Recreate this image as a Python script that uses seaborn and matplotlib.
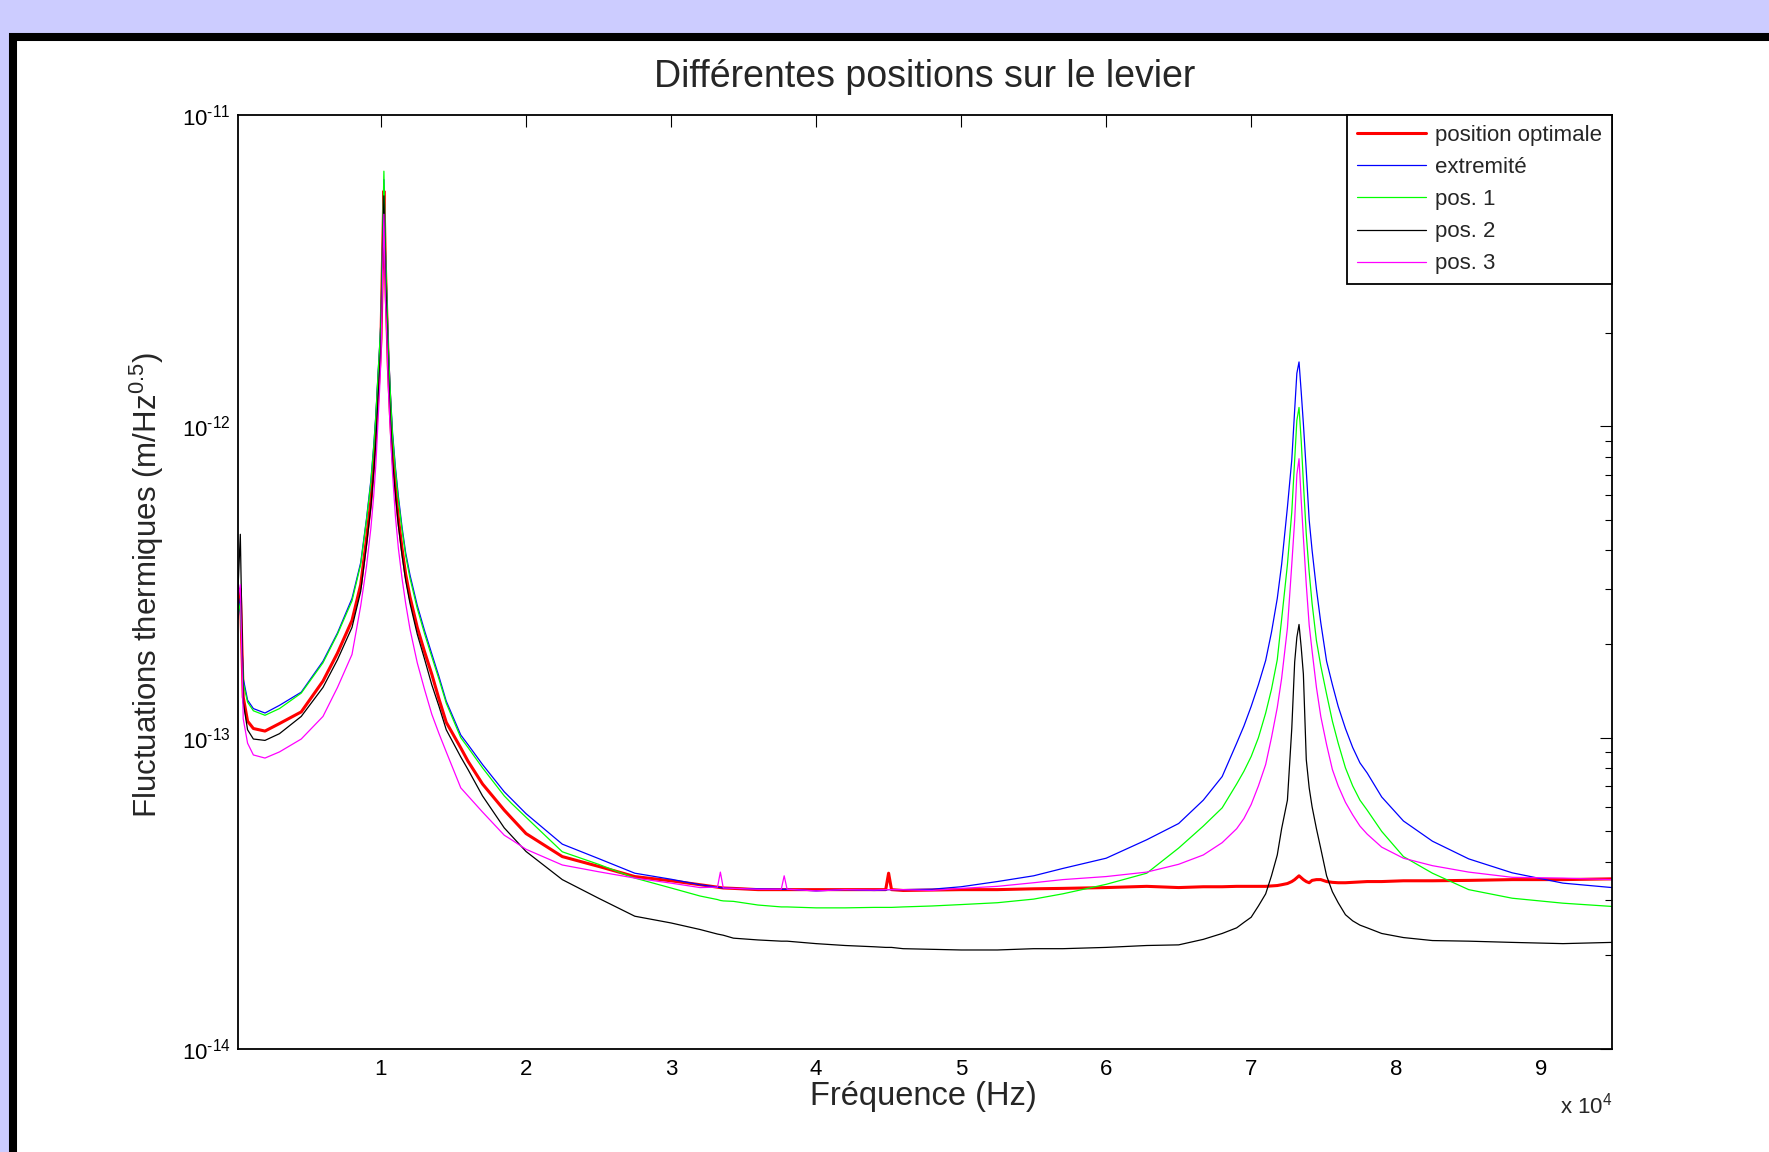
import numpy as np
import pandas as pd
import seaborn as sns
import matplotlib.pyplot as plt
from matplotlib.patches import Rectangle
from matplotlib.ticker import FixedLocator, LogLocator, NullLocator, NullFormatter

sns.set_style("white")
plt.rcParams['font.family'] = ['Liberation Sans', 'DejaVu Sans']
plt.rcParams['mathtext.fontset'] = 'custom'
plt.rcParams['mathtext.rm'] = 'Liberation Sans'
plt.rcParams['mathtext.it'] = 'Liberation Sans:italic'

# Frequency grid (Hz)
freq = [140, 300, 500, 800, 1200, 2000, 3000, 4500, 6000, 7000,
        8000, 8600, 9000, 9300, 9500, 9650, 9800, 9900, 10000, 10100,
        10200, 10300, 10400, 10500, 10650, 10800, 11000, 11200, 11450, 11700,
        12000, 12500, 13000, 13500, 14000, 14500, 15500, 16000, 17000, 18500,
        19000, 20000, 22500, 25000, 27500, 30000, 32000, 33200, 33400, 33600,
        34300, 36000, 37600, 37800, 38000, 40000, 42000, 44000, 44800, 45000,
        45200, 46000, 48000, 50000, 52500, 55000, 57000, 60000, 62800, 65000,
        66700, 68000, 69000, 69500, 70000, 70500, 71000, 71400, 71800, 72100,
        72500, 72800, 73000, 73150, 73300, 73450, 73600, 73800, 74000, 74200,
        74500, 74800, 75200, 75600, 76000, 76500, 77000, 77500, 78000, 79000,
        80500, 82500, 85000, 88000, 91500, 94880]

# Amplitudes, in units of 1e-14 m/Hz^0.5
pos_optimale = [26, 30, 13.5, 11.3, 10.7, 10.5, 11.1, 12.1, 15.2, 18.7,
                23.8, 31, 43.5, 57.5, 75, 95, 129, 155, 191, 335,
                570, 330, 228, 157, 109, 81, 63, 50.5, 40.5, 33.5,
                28.3, 22.6, 18.9, 16.0, 13.3, 11.2, 9.27, 8.4, 7.1, 5.85,
                5.52, 4.92, 4.15, 3.86, 3.58, 3.47, 3.37, 3.31, 3.3, 3.29,
                3.28, 3.25, 3.25, 3.25, 3.25, 3.25, 3.25, 3.25, 3.25, 3.67,
                3.25, 3.23, 3.24, 3.25, 3.25, 3.27, 3.28, 3.3, 3.33, 3.3,
                3.32, 3.32, 3.33, 3.33, 3.33, 3.33, 3.33, 3.34, 3.35, 3.37,
                3.4, 3.45, 3.5, 3.55, 3.6, 3.55, 3.5, 3.45, 3.42, 3.48,
                3.5, 3.5, 3.45, 3.43, 3.42, 3.42, 3.43, 3.44, 3.45, 3.45,
                3.47, 3.47, 3.48, 3.5, 3.5, 3.52]

extremite = [24, 28, 15.5, 13.2, 12.4, 12.0, 12.7, 14.0, 17.6, 21.7,
             28, 36.5, 50.5, 67, 87, 110, 149, 179, 220, 370,
             620, 370, 262, 183, 127, 95, 73.5, 59.5, 47.5, 39.3,
             33.3, 26.6, 22.1, 18.6, 15.7, 13.1, 10.2, 9.5, 8.2, 6.7,
             6.35, 5.7, 4.55, 4.09, 3.67, 3.51, 3.37, 3.31, 3.3, 3.29,
             3.28, 3.27, 3.26, 3.26, 3.26, 3.22, 3.25, 3.23, 3.24, 3.25,
             3.25, 3.25, 3.26, 3.32, 3.45, 3.6, 3.8, 4.1, 4.7, 5.3,
             6.3, 7.5, 9.6, 10.9, 12.6, 14.8, 17.7, 21.8, 28, 36,
             55, 78, 113, 148, 161, 129, 102, 72, 50, 40,
             30, 23.4, 17.6, 14.8, 12.6, 10.7, 9.3, 8.3, 7.7, 6.45,
             5.4, 4.65, 4.08, 3.68, 3.41, 3.3]

pos1 = [25, 27, 15, 13, 12.2, 11.8, 12.4, 13.9, 17.4, 21.5,
        27.5, 36, 50, 66, 86, 109, 148, 178, 220, 380,
        660, 380, 260, 180, 125, 93, 72, 58, 46.5, 38.5,
        32.5, 26, 21.6, 18.2, 15.4, 12.9, 10.0, 9.3, 8.0, 6.5,
        6.15, 5.55, 4.3, 3.92, 3.54, 3.29, 3.1, 3.02, 3.0, 2.99,
        2.98, 2.9, 2.86, 2.86, 2.86, 2.84, 2.84, 2.85, 2.85, 2.85,
        2.85, 2.86, 2.88, 2.91, 2.95, 3.03, 3.15, 3.38, 3.67, 4.42,
        5.2, 5.95, 7.1, 7.8, 8.7, 10.0, 12.0, 14.3, 17.8, 24,
        36, 53, 78, 104.5, 115, 90, 66, 45, 34, 27,
        20.5, 17, 13.8, 11.3, 9.6, 8.0, 7.0, 6.3, 5.85, 5.0,
        4.15, 3.67, 3.25, 3.05, 2.94, 2.87]

pos2 = [30, 45, 13, 10.6, 9.9, 9.8, 10.3, 11.7, 14.5, 17.8,
        22.6, 29.5, 41.5, 55, 71.5, 90, 123, 148, 183, 320,
        550, 315, 216, 150, 104, 77, 60, 48, 38.6, 32,
        27, 21.5, 17.9, 14.8, 12.6, 10.6, 8.67, 7.9, 6.5, 5.13,
        4.84, 4.31, 3.5, 3.05, 2.67, 2.54, 2.42, 2.34, 2.33, 2.32,
        2.27, 2.24, 2.22, 2.22, 2.22, 2.18, 2.15, 2.13, 2.12, 2.12,
        2.12, 2.1, 2.09, 2.08, 2.08, 2.1, 2.1, 2.12, 2.15, 2.16,
        2.25, 2.35, 2.45, 2.55, 2.65, 2.88, 3.15, 3.6, 4.2, 5.1,
        6.3, 10.7, 17.5, 21, 23.1, 19.5, 16, 8.5, 6.9, 6.0,
        5.1, 4.4, 3.6, 3.2, 2.95, 2.7, 2.58, 2.5, 2.45, 2.35,
        2.28, 2.23, 2.22, 2.2, 2.18, 2.2]

pos3 = [28, 31, 11.5, 9.6, 8.8, 8.6, 9.0, 9.9, 11.7, 14.5,
        18.5, 26.5, 35.5, 47, 60, 76, 105, 130, 165, 290,
        480, 260, 195, 135, 95, 70, 51, 40.5, 32.5, 27,
        22.3, 17.4, 14.3, 11.9, 10.3, 9.0, 6.9, 6.5, 5.77, 4.86,
        4.7, 4.38, 3.9, 3.71, 3.54, 3.41, 3.3, 3.31, 3.7, 3.29,
        3.28, 3.26, 3.26, 3.6, 3.26, 3.22, 3.25, 3.24, 3.25, 3.25,
        3.25, 3.25, 3.23, 3.28, 3.33, 3.42, 3.5, 3.58, 3.7, 3.92,
        4.2, 4.6, 5.1, 5.5, 6.1, 7.0, 8.2, 10.0, 12.5, 15.5,
        22.5, 36, 50, 70, 78.7, 58, 44, 31, 23, 19,
        14.5, 11.7, 9.5, 7.9, 7.0, 6.2, 5.65, 5.2, 4.9, 4.45,
        4.1, 3.88, 3.7, 3.56, 3.54, 3.5]

labels = ['position optimale', 'extremité', 'pos. 1', 'pos. 2', 'pos. 3']
colors = ['#ff0000', '#0000ff', '#00ff00', '#000000', '#ff00ff']
widths = [2.2, 0.9, 0.9, 0.9, 0.9]

df = pd.DataFrame({'freq': freq,
                   'position optimale': pos_optimale,
                   'extremité': extremite,
                   'pos. 1': pos1,
                   'pos. 2': pos2,
                   'pos. 3': pos3})
long = df.melt(id_vars='freq', var_name='position', value_name='amp')
long['amp'] = long['amp'] * 1e-14

W, H = 1769, 1152
fig = plt.figure(figsize=(W / 100, H / 100), dpi=100, facecolor='#ccccff')

# white panel with thick black border (window frame)
frame = Rectangle((13.4 / W, -0.1), 1.2, 1.1 - 37 / H, transform=fig.transFigure,
                  facecolor='white', edgecolor='black', linewidth=5.8, zorder=-5)
fig.patches.append(frame)

ax = fig.add_axes([238 / W, 1 - 1049 / H, (1612 - 238) / W, (1049 - 115) / H])

for lab, col, lw in zip(labels, colors, widths):
    sub = long[long['position'] == lab]
    sns.lineplot(data=sub, x='freq', y='amp', ax=ax, color=col, linewidth=lw,
                 label=lab, estimator=None, sort=False)

ax.set_yscale('log')
ax.set_xlim(140, 94880)
ax.set_ylim(1e-14, 1e-11)
ax.set_xlabel('')
ax.set_ylabel('')

ax.xaxis.set_major_locator(FixedLocator([10000 * k for k in range(1, 10)]))
ax.set_xticklabels([str(k) for k in range(1, 10)])
ax.xaxis.set_minor_locator(NullLocator())

ax.yaxis.set_major_locator(FixedLocator([1e-14, 1e-13, 1e-12, 1e-11]))
ax.set_yticklabels(['$\\mathregular{10^{\u201014}}$', '$\\mathregular{10^{\u201013}}$',
                    '$\\mathregular{10^{\u201012}}$', '$\\mathregular{10^{\u201011}}$'])
ax.yaxis.set_minor_locator(LogLocator(base=10, subs=range(2, 10)))
ax.yaxis.set_minor_formatter(NullFormatter())

ax.tick_params(which='both', direction='in', top=True, right=True,
               labelsize=16, colors='black', width=0.8)
ax.tick_params(which='major', length=8.6)
ax.tick_params(which='minor', length=5)
ax.tick_params(axis='x', pad=7)
ax.tick_params(axis='y', pad=5)
for sp in ax.spines.values():
    sp.set_linewidth(1.3)
    sp.set_color('black')

leg = ax.legend(loc='upper right', borderaxespad=0, fancybox=False,
                edgecolor='black', framealpha=1, fontsize=16,
                handlelength=3.1, handletextpad=0.4, labelspacing=0.5,
                borderpad=0.45)
leg.get_frame().set_linewidth(1.3)

fig.text(925 / W, 1 - 77 / H, 'Différentes positions sur le levier',
         ha='center', va='center', fontsize=27)
fig.text(923 / W, 1 - 1097 / H, 'Fréquence (Hz)', ha='center', va='center', fontsize=23.5)
fig.text(147 / W, 1 - 585 / H, r'Fluctuations thermiques (m/Hz$\mathregular{^{0.5}}$)',
         rotation=90, ha='center', va='center', fontsize=22.5)
fig.text(1612 / W, 1 - 1106 / H, r'x $\mathregular{10^{4}}$', ha='right', va='center',
         fontsize=16)

fig.savefig('out.png', dpi=100, facecolor=fig.get_facecolor())
